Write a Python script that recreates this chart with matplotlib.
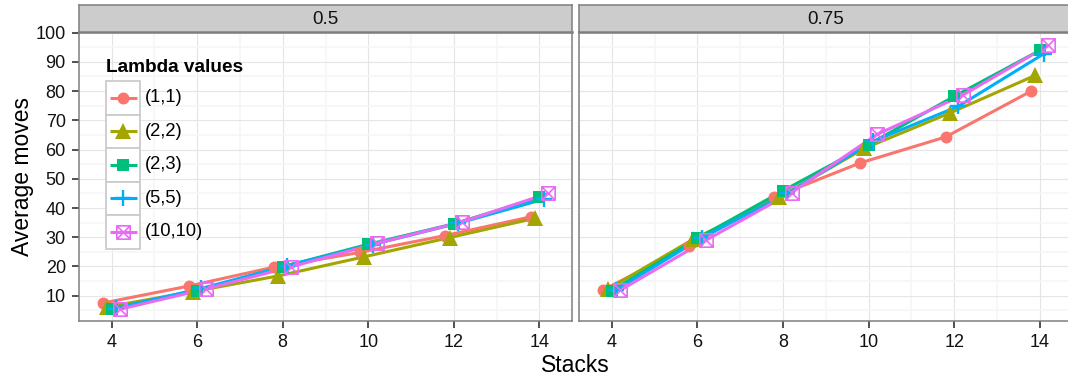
import matplotlib
matplotlib.use("Agg")
import matplotlib.pyplot as plt
import matplotlib.patches as mpatches
import matplotlib.lines as mlines
from matplotlib.path import Path
from matplotlib.ticker import MultipleLocator

plt.rcParams['font.family'] = ['Liberation Sans', 'DejaVu Sans']

# ---------------- data ----------------
stacks = [4, 6, 8, 10, 12, 14]
panel_titles = ["0.5", "0.75"]
lambda_labels = ["(1,1)", "(2,2)", "(2,3)", "(5,5)", "(10,10)"]

# panel "0.5"
p05_l11 = [7.5, 13.3, 19.8, 24.8, 30.6, 37.0]
p05_l22 = [6.2, 11.4, 16.8, 23.3, 29.9, 36.5]
p05_l23 = [5.6, 11.7, 19.9, 27.6, 34.6, 43.6]
p05_l55 = [5.8, 12.5, 20.3, 27.5, 34.8, 43.0]
p05_l1010 = [5.4, 12.3, 19.9, 27.9, 35.3, 45.0]

# panel "0.75"
p075_l11 = [12.0, 27.0, 43.8, 55.4, 64.3, 80.0]
p075_l22 = [12.2, 29.3, 43.6, 60.4, 72.5, 85.4]
p075_l23 = [11.7, 29.6, 45.9, 61.7, 78.2, 93.9]
p075_l55 = [12.0, 29.8, 45.0, 62.8, 74.8, 92.8]
p075_l1010 = [11.9, 29.0, 45.3, 65.2, 78.6, 95.6]

x_ticks = [4, 6, 8, 10, 12, 14]
y_ticks = [10, 20, 30, 40, 50, 60, 70, 80, 90, 100]

panels = [
    [p05_l11, p05_l22, p05_l23, p05_l55, p05_l1010],
    [p075_l11, p075_l22, p075_l23, p075_l55, p075_l1010],
]

# ---------------- styles ----------------
colors = ["#F8766D", "#A3A500", "#00BF7D", "#00B0F6", "#E76BF3"]
dodge = [-0.2, -0.1, 0.0, 0.1, 0.2]

boxx = Path([(-1, -1), (1, -1), (1, 1), (-1, 1), (-1, -1),
             (-1, -1), (1, 1), (-1, 1), (1, -1)],
            [Path.MOVETO, Path.LINETO, Path.LINETO, Path.LINETO, Path.CLOSEPOLY,
             Path.MOVETO, Path.LINETO, Path.MOVETO, Path.LINETO])

marker_styles = [
    dict(marker='o', markersize=8.6, markeredgewidth=0),
    dict(marker='^', markersize=11.0, markeredgewidth=0),
    dict(marker='s', markersize=8.4, markeredgewidth=0),
    dict(marker='+', markersize=12.0, markeredgewidth=1.7),
    dict(marker=boxx, markersize=9.6, markeredgewidth=1.2, markerfacecolor='none'),
]

W, H = 1068, 378
fig = plt.figure(figsize=(W / 100, H / 100), dpi=100)

def fx(px):
    return px / W

def fy(py):
    return 1 - py / H

panel_top, panel_bot = 32.3, 321.0
strip_top = 5.0
panel_w = 493.0
lefts = [79.0, 579.3]
border_col = "#7F7F7F"

axes = []
for k, left in enumerate(lefts):
    ax = fig.add_axes([fx(left), fy(panel_bot), panel_w / W, (panel_bot - panel_top) / H])
    axes.append(ax)
    ax.set_facecolor("white")
    ax.set_xlim(3.24, 14.76)
    ax.set_ylim(1.36, 100.1)
    ax.set_xticks(x_ticks)
    ax.set_yticks(y_ticks)
    ax.xaxis.set_minor_locator(MultipleLocator(1))
    ax.yaxis.set_minor_locator(MultipleLocator(5))
    ax.grid(which='minor', color="#F6F6F6", linewidth=1.2, zorder=0)
    ax.grid(which='major', color="#E5E5E5", linewidth=0.8, zorder=0)
    ax.set_axisbelow(True)
    for sp in ax.spines.values():
        sp.set_color(border_col)
        sp.set_linewidth(1.1)
    ax.tick_params(which='minor', length=0)
    ax.tick_params(axis='x', which='major', length=5, width=1.1, color="#222222",
                   labelsize=13, pad=4.5, labelcolor="#111111")
    if k == 0:
        ax.tick_params(axis='y', which='major', length=5, width=1.1, color="#222222",
                       labelsize=13, pad=4.5, labelcolor="#111111")
    else:
        ax.tick_params(axis='y', which='major', length=0, labelleft=False)

    series = panels[k]
    # lines first
    for i, vals in enumerate(series):
        xs = [s + dodge[i] for s in stacks]
        ax.plot(xs, vals, color=colors[i], linewidth=2.2, solid_capstyle='butt', zorder=2)
    # then points
    for i, vals in enumerate(series):
        xs = [s + dodge[i] for s in stacks]
        ms = dict(marker_styles[i])
        ax.plot(xs, vals, linestyle='none', color=colors[i], markeredgecolor=colors[i],
                zorder=3, **ms)

    # strip
    sax = fig.add_axes([fx(left), fy(panel_top), panel_w / W, (panel_top - strip_top) / H])
    sax.set_facecolor("#CCCCCC")
    sax.set_xticks([])
    sax.set_yticks([])
    for sp in sax.spines.values():
        sp.set_color(border_col)
        sp.set_linewidth(1.1)
    sax.spines['bottom'].set_linewidth(1.8)
    sax.text(0.5, 0.47, panel_titles[k], transform=sax.transAxes, ha='center', va='center',
             fontsize=13.5, color="#111111")

# axis titles
fig.text(fx(575), fy(366), "Stacks", ha='center', va='center', fontsize=16.5, color="black")
fig.text(fx(23), fy(176.5), "Average moves", ha='center', va='center', rotation=90,
         fontsize=16.5, color="black")

# legend (ggplot style, keys in boxes)
fig.text(fx(106.5), fy(68), "Lambda values", ha='left', va='center', fontsize=13.7,
         fontweight='bold', color="black")
key_left, key_w, key_top, key_h = 106.0, 34.0, 81.0, 33.5
for i, lab in enumerate(lambda_labels):
    top = key_top + key_h * i
    rect = mpatches.Rectangle((fx(key_left), fy(top + key_h)), key_w / W, key_h / H,
                              transform=fig.transFigure, facecolor="white",
                              edgecolor="#CCCCCC", linewidth=1.3, zorder=5)
    fig.add_artist(rect)
    yc = fy(top + key_h / 2)
    ln = mlines.Line2D([fx(key_left + 3.5), fx(key_left + key_w - 3.5)], [yc, yc],
                       transform=fig.transFigure, color=colors[i], linewidth=2.2,
                       solid_capstyle='butt', zorder=6)
    fig.add_artist(ln)
    ms = dict(marker_styles[i])
    mk = mlines.Line2D([fx(key_left + key_w / 2)], [yc], transform=fig.transFigure,
                       linestyle='none', color=colors[i], markeredgecolor=colors[i],
                       zorder=7, **ms)
    fig.add_artist(mk)
    fig.text(fx(144.5), yc, lab, ha='left', va='center', fontsize=13.2, color="black",
             zorder=8)

fig.savefig("out.png", dpi=100, facecolor="white")
